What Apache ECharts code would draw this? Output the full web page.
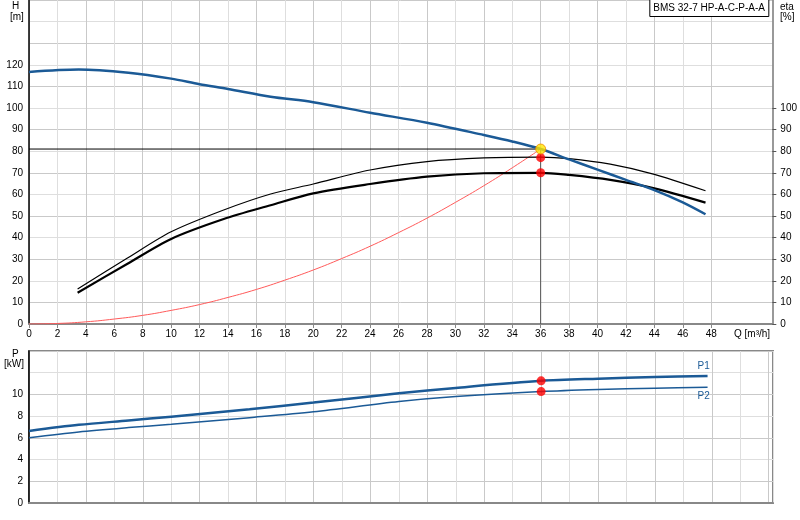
<!DOCTYPE html>
<html style="height: 100%">
<head>
    <meta charset="utf-8">
    <title>BMS 32-7 HP-A-C-P-A-A</title>
    <script src="https://cdn.jsdelivr.net/npm/echarts@6/dist/echarts.min.js"></script>
    <style>
        html, body { margin: 0; padding: 0; background: #fff; }
        #chart { width: 800px; height: 520px; }
    </style>
</head>
<body>
<div id="chart"></div>
<script>
    // tick labels
    var qTicks = [0, 2, 4, 6, 8, 10, 12, 14, 16, 18, 20, 22, 24, 26, 28, 30, 32, 34, 36, 38, 40, 42, 44, 46, 48];
    var hTicks = [0, 10, 20, 30, 40, 50, 60, 70, 80, 90, 100, 110, 120];
    var etaTicks = [0, 10, 20, 30, 40, 50, 60, 70, 80, 90, 100];
    var pTicks = [0, 2, 4, 6, 8, 10];

    // head curve
    var qH = [0, 3.5, 7, 10, 12, 14, 17, 20, 24, 28, 32, 34, 36, 38, 40, 42, 44, 46, 47.6];
    var hVals = [116.7, 117.8, 116.3, 113.6, 111, 108.8, 105.2, 102.7, 97.8, 93.2, 87.5, 84.5, 81, 76.2, 71.5, 66.7, 62, 56.3, 50.8];

    // efficiency curves
    var qEta = [3.42, 6.9, 10, 13.7, 17, 20, 24, 28, 32, 36, 38, 40.9, 44, 47.6];
    var etaThin = [16.2, 30.4, 42.7, 52.8, 60.2, 64.8, 71.3, 75.2, 76.9, 77.3, 76.6, 74, 69.3, 61.7];
    var etaThick = [14.5, 27.8, 39.4, 48.6, 55, 60.5, 64.8, 68.2, 69.8, 70, 69, 66.7, 62.8, 56.2];

    // system curve
    var qSys = [0, 2, 4, 6, 8, 10, 12, 14, 16, 18, 20, 22, 24, 26, 28, 30, 32, 34, 36];
    var hSys = [0, 0.25, 1, 2.3, 4, 6.3, 9, 12.3, 16, 20.3, 25, 30.3, 36, 42.3, 49, 56.3, 64, 72.3, 81];

    // power curves
    var qP = [0, 3.5, 7, 10, 15.5, 20, 26, 30, 36, 40, 44, 47.7];
    var p1Vals = [6.64, 7.2, 7.6, 7.95, 8.63, 9.25, 10.1, 10.6, 11.25, 11.45, 11.6, 11.7];
    var p2Vals = [6.02, 6.55, 6.95, 7.25, 7.86, 8.4, 9.34, 9.8, 10.26, 10.45, 10.58, 10.66];

    // duty point
    var dutyQ = 36;
    var dutyH = 81;
    var dutyEta = [77, 70];
    var dutyP = [11.25, 10.26];

    function zip(xs, ys) {
        return xs.map(function (x, i) { return [x, ys[i]]; });
    }

    var font = 'Liberation Sans, Arial, sans-serif';
    var fs = 10;
    var blue = '#1b5a96';
    var gridX = ['#c9c9c9', '#dedede'];
    var gridY = ['#dedede', '#c9c9c9'];

    var chart = echarts.init(document.getElementById('chart'));
    var option = {
        animation: false,
        textStyle: { fontFamily: font },
        title: {
            text: 'BMS 32-7 HP-A-C-P-A-A',
            right: 31,
            top: -1,
            padding: [4, 4, 4, 4],
            backgroundColor: '#fff',
            borderColor: '#000',
            borderWidth: 1,
            textStyle: { fontSize: fs, fontWeight: 'normal', color: '#000', fontFamily: font }
        },
        graphic: [
            { type: 'text', left: 12, top: 1, style: { text: 'H', fontSize: fs, fill: '#000', fontFamily: font } },
            { type: 'text', left: 10, top: 12, style: { text: '[m]', fontSize: fs, fill: '#000', fontFamily: font } },
            { type: 'text', left: 780, top: 2, style: { text: 'eta', fontSize: fs, fill: '#000', fontFamily: font } },
            { type: 'text', left: 780, top: 12, style: { text: '[%]', fontSize: fs, fill: '#000', fontFamily: font } },
            { type: 'text', left: 734, top: 329, style: { text: 'Q [m³/h]', fontSize: fs, fill: '#000', fontFamily: font } },
            { type: 'text', left: 12, top: 349, style: { text: 'P', fontSize: fs, fill: '#000', fontFamily: font } },
            { type: 'text', left: 4, top: 359, style: { text: '[kW]', fontSize: fs, fill: '#000', fontFamily: font } }
        ],
        grid: [
            { left: 29, right: 27, top: 0, height: 324 },
            { left: 29, right: 27, top: 351, height: 152, show: true, borderColor: '#888', borderWidth: 2 }
        ],
        xAxis: [
            {
                type: 'value', gridIndex: 0, min: 0, max: 52.3, interval: 2,
                axisLine: { lineStyle: { color: '#888', width: 2 } },
                axisTick: { show: true, length: 4, lineStyle: { color: '#888' }, customValues: qTicks },
                axisLabel: { customValues: qTicks, fontSize: fs, color: '#000', margin: 5 },
                splitLine: { lineStyle: { color: gridX, width: 1 } }
            },
            {
                type: 'value', gridIndex: 1, min: 0, max: 52.3, interval: 2,
                axisLine: { lineStyle: { color: '#888', width: 2 } },
                axisTick: { show: false },
                axisLabel: { show: false },
                splitLine: { lineStyle: { color: gridX, width: 1 } }
            }
        ],
        yAxis: [
            {
                type: 'value', gridIndex: 0, min: 0, max: 150, interval: 10,
                axisLine: { show: true, lineStyle: { color: '#000', width: 1.5 } },
                axisTick: { show: false },
                axisLabel: { customValues: hTicks, fontSize: fs, color: '#000', margin: 6 },
                splitLine: { lineStyle: { color: gridY, width: 1 } }
            },
            {
                type: 'value', gridIndex: 0, position: 'right', min: 0, max: 150, interval: 10,
                axisLine: { show: true, lineStyle: { color: '#777', width: 1.5 } },
                axisTick: { show: true, length: 4, lineStyle: { color: '#555' }, customValues: etaTicks },
                axisLabel: { customValues: etaTicks, fontSize: fs, color: '#000', margin: 8 },
                splitLine: { show: false }
            },
            {
                type: 'value', gridIndex: 1, min: 0, max: 14, interval: 2,
                axisLine: { show: true, lineStyle: { color: '#000', width: 1.5 } },
                axisTick: { show: false },
                axisLabel: { customValues: pTicks, fontSize: fs, color: '#000', margin: 6 },
                splitLine: { lineStyle: { color: gridY, width: 1 } }
            }
        ],
        series: [
            {
                name: 'duty-h', type: 'line', xAxisIndex: 0, yAxisIndex: 0,
                data: [[0, dutyH], [dutyQ, dutyH]], showSymbol: false,
                lineStyle: { color: '#000', width: 1 }, z: 2
            },
            {
                name: 'duty-q', type: 'line', xAxisIndex: 0, yAxisIndex: 0,
                data: [[dutyQ, dutyH], [dutyQ, 0]], showSymbol: false,
                lineStyle: { color: '#555', width: 1 }, z: 2
            },
            {
                name: 'system', type: 'line', xAxisIndex: 0, yAxisIndex: 0,
                data: zip(qSys, hSys), showSymbol: false, smooth: true,
                lineStyle: { color: '#ff5a5a', width: 1 }, z: 3
            },
            {
                name: 'eta1', type: 'line', xAxisIndex: 0, yAxisIndex: 1,
                data: zip(qEta, etaThin), showSymbol: false, smooth: 0.3,
                lineStyle: { color: '#000', width: 1.2 }, z: 4
            },
            {
                name: 'eta2', type: 'line', xAxisIndex: 0, yAxisIndex: 1,
                data: zip(qEta, etaThick), showSymbol: false, smooth: 0.3,
                lineStyle: { color: '#000', width: 2.2 }, z: 4
            },
            {
                name: 'H', type: 'line', xAxisIndex: 0, yAxisIndex: 0,
                data: zip(qH, hVals), showSymbol: false, smooth: 0.3,
                lineStyle: { color: blue, width: 2.5 }, z: 5
            },
            {
                name: 'P1', type: 'line', xAxisIndex: 1, yAxisIndex: 2,
                data: zip(qP, p1Vals), showSymbol: false, smooth: 0.3,
                lineStyle: { color: blue, width: 2.5 }, z: 5,
                endLabel: { show: true, formatter: 'P1', color: blue, fontSize: fs, offset: [-18, -10] }
            },
            {
                name: 'P2', type: 'line', xAxisIndex: 1, yAxisIndex: 2,
                data: zip(qP, p2Vals), showSymbol: false, smooth: 0.3,
                lineStyle: { color: blue, width: 1.5 }, z: 5,
                endLabel: { show: true, formatter: 'P2', color: blue, fontSize: fs, offset: [-18, 9] }
            },
            {
                name: 'eta-points', type: 'scatter', xAxisIndex: 0, yAxisIndex: 1,
                data: dutyEta.map(function (v) { return [dutyQ, v]; }),
                symbolSize: 9, itemStyle: { color: '#ff0000' }, z: 10
            },
            {
                name: 'h-point', type: 'scatter', xAxisIndex: 0, yAxisIndex: 0,
                data: [[dutyQ, dutyH]],
                symbolSize: 10, itemStyle: { color: '#ffe600', borderColor: '#f08c00', borderWidth: 1 }, z: 11
            },
            {
                name: 'p-points', type: 'scatter', xAxisIndex: 1, yAxisIndex: 2,
                data: dutyP.map(function (v) { return [dutyQ, v]; }),
                symbolSize: 9, itemStyle: { color: '#ff0000' }, z: 10
            }
        ]
    };
    chart.setOption(option);
</script>
</body>
</html>
